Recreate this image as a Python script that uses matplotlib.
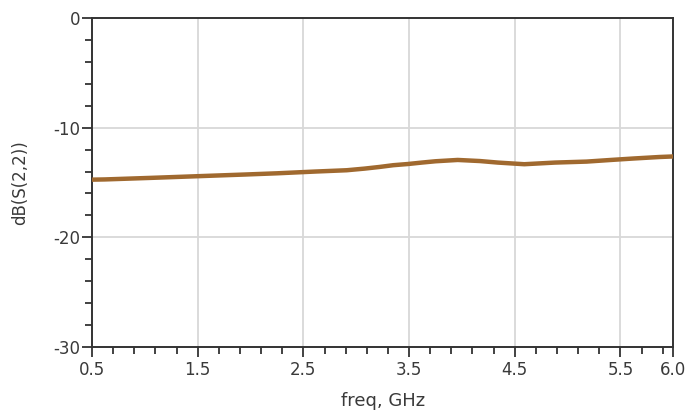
import matplotlib
matplotlib.use("Agg")
import matplotlib.pyplot as plt
from matplotlib.ticker import FixedLocator, MultipleLocator

# Data
freq_ghz = [0.5, 0.62, 1.05, 1.57, 1.95, 2.25, 2.61, 2.91, 3.08, 3.22, 3.35, 3.49,
            3.62, 3.75, 3.96, 4.17, 4.34, 4.59, 4.88, 5.18, 5.41, 5.62, 5.87, 6.0]
s22_db = [-14.74, -14.72, -14.58, -14.40, -14.27, -14.16, -14.00, -13.88, -13.73,
          -13.58, -13.42, -13.31, -13.18, -13.06, -12.94, -13.04, -13.18, -13.33,
          -13.18, -13.09, -12.94, -12.81, -12.67, -12.62]

x_major = [0.5, 1.5, 2.5, 3.5, 4.5, 5.5, 6.0]
x_labels = ["0.5", "1.5", "2.5", "3.5", "4.5", "5.5", "6.0"]
x_grid = [1.5, 2.5, 3.5, 4.5, 5.5]
y_major = [-30, -20, -10, 0]
y_labels = ["-30", "-20", "-10", "0"]

plt.rcParams['font.family'] = ['DejaVu Sans']
txt = '#3a3a3a'

fig = plt.figure(figsize=(6.88, 4.15), dpi=100)
ax = fig.add_axes([92/688, 1 - 346.7/415, (673.3 - 92)/688, (346.7 - 18.3)/415])

ax.set_xlim(0.5, 6.0)
ax.set_ylim(-30, 0)

for xg in x_grid:
    ax.axvline(xg, color='#d8d8d8', lw=1.3, zorder=0)
for yg in [-20, -10]:
    ax.axhline(yg, color='#d8d8d8', lw=1.3, zorder=0)

ax.plot(freq_ghz, s22_db, color='#e02020', lw=1.2, zorder=2)
ax.plot(freq_ghz, s22_db, color='#a0692f', lw=3.2, zorder=3,
        solid_joinstyle='miter')

ax.xaxis.set_major_locator(FixedLocator(x_major))
ax.set_xticklabels(x_labels)
ax.xaxis.set_minor_locator(FixedLocator([0.5 + 0.2 * i for i in range(28)]))
ax.yaxis.set_major_locator(FixedLocator(y_major))
ax.set_yticklabels(y_labels)
ax.yaxis.set_minor_locator(MultipleLocator(2))

ax.tick_params(axis='both', which='major', direction='out', length=7.5, width=1.3,
               color='#333333', labelsize=12, labelcolor=txt)
ax.tick_params(axis='both', which='minor', direction='out', length=5, width=1.3,
               color='#333333')
ax.tick_params(axis='x', which='major', pad=3)
ax.tick_params(axis='y', which='major', pad=1)

for sp in ax.spines.values():
    sp.set_color('#333333')
    sp.set_linewidth(1.4)

ax.set_xlabel('freq, GHz', fontsize=13, color=txt, labelpad=9)
ax.set_ylabel('dB(S(2,2))', fontsize=12, color=txt, labelpad=17)

fig.savefig('out.png', dpi=100)
